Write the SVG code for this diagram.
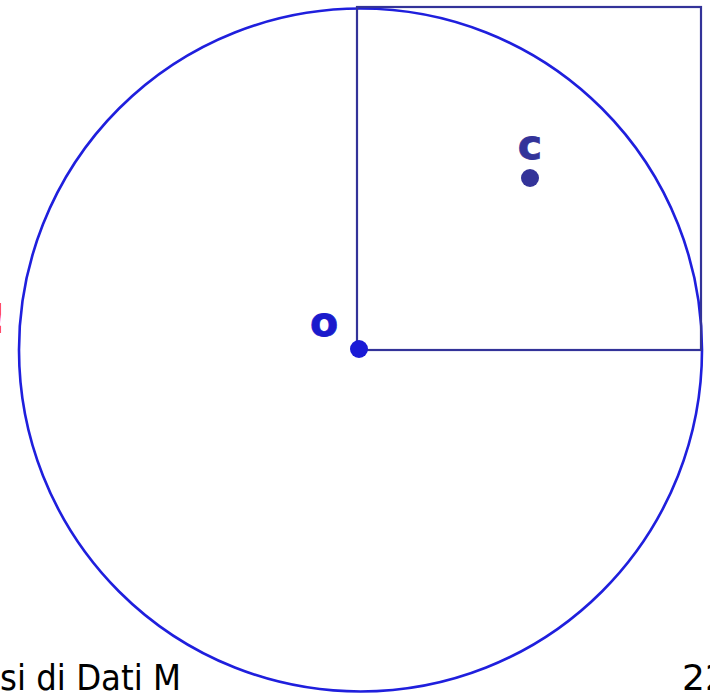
<svg xmlns="http://www.w3.org/2000/svg" width="710" height="693" viewBox="0 0 710 693">
<style>
.lbl{font-family:"DejaVu Sans",Verdana,sans-serif;font-weight:bold;font-size:41px}
.foot{font-family:"DejaVu Sans","Liberation Sans",sans-serif;font-size:36px;fill:#000}
</style>
<rect width="710" height="693" fill="#fff"/>
<g id="circle"><circle cx="360.5" cy="350" r="341.5" fill="none" stroke="#1f1fdd" stroke-width="2.6"/></g>
<g id="square"><rect x="357" y="7" width="344" height="343" fill="none" stroke="#333399" stroke-width="2.2"/></g>
<g id="node-o">
<circle cx="359" cy="349" r="9" fill="#1a1ad6"/>
<text class="lbl" x="324" y="336" text-anchor="middle" fill="#1a1acc" stroke="#1a1acc" stroke-width="0.8">o</text>
</g>
<g id="node-c">
<circle cx="530" cy="178" r="9" fill="#333399"/>
<text class="lbl" x="530" y="159" text-anchor="middle" fill="#333399" stroke="#333399" stroke-width="0.8">c</text>
</g>
<text x="6.5" y="333" font-family="DejaVu Sans,sans-serif" font-weight="bold" font-size="40" fill="#ff3300" text-anchor="end">!</text>
<text class="foot" x="0" y="690" textLength="181" lengthAdjust="spacingAndGlyphs">si di Dati M</text>
<text class="foot" x="682" y="690">22</text>
</svg>
